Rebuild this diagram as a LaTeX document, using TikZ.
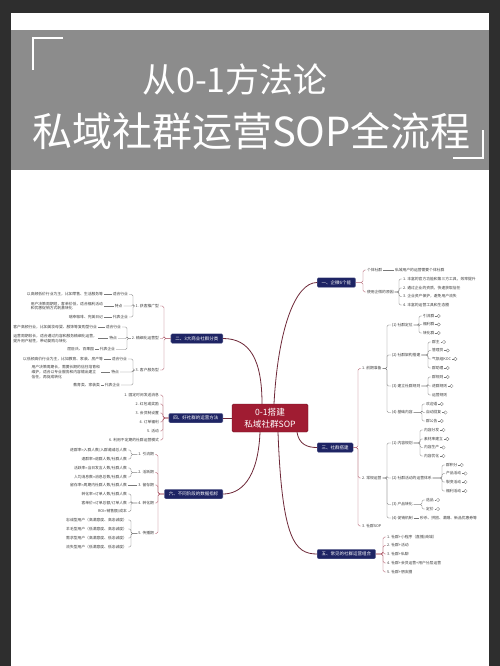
\documentclass[tikz,border=0pt]{standalone}
\usepackage{fontspec}
\setmainfont{Noto Sans CJK SC}
\usetikzlibrary{positioning}

\definecolor{framecolor}{RGB}{46,46,46}
\definecolor{bandcolor}{RGB}{140,140,140}
\definecolor{rootcolor}{RGB}{160,28,50}
\definecolor{branchcolor}{RGB}{30,36,100}
\definecolor{trunkcolor}{RGB}{110,40,56}
\definecolor{bracecolor}{RGB}{170,82,98}
\definecolor{leafcolor}{RGB}{60,60,60}
\definecolor{twigcolor}{RGB}{120,120,120}

\newcommand{\leafsize}{\fontsize{3.8}{4.7}\selectfont}

\begin{document}
\begin{tikzpicture}[x=1pt,y=-1pt,
    root/.style={fill=rootcolor, draw=rootcolor!70!black, line width=0.4pt, rounded corners=1.5pt,
      text=white, align=center, minimum width=76pt, minimum height=28pt, inner sep=0pt,
      font=\fontsize{8.6}{12.5}\selectfont},
    branch/.style={fill=branchcolor, draw=branchcolor!60!white, line width=0.3pt, rounded corners=1.2pt,
      text=white, inner xsep=4.5pt, inner ysep=0pt, minimum height=9.5pt, font=\fontsize{4.5}{5}\selectfont},
    leaf/.style={text=leafcolor, inner xsep=0.8pt, inner ysep=0.6pt, font=\leafsize, align=left},
    fold/.style={circle, draw=twigcolor, line width=0.3pt, inner sep=0pt, minimum size=3.4pt},
    trunk/.style={draw=trunkcolor, line width=0.8pt},
    brace/.style={draw=bracecolor, line width=0.45pt, rounded corners=1.6pt},
    twig/.style={draw=twigcolor, line width=0.35pt, rounded corners=1.4pt},
    titletext/.style={text=white, inner sep=0pt}]

    % Frame and title band
    \fill[framecolor] (0,0) rectangle (500,666);
    \fill[white] (11,13) rectangle (489,666);
    \fill[bandcolor] (11,30) rectangle (489,170);
    \useasboundingbox (0,0) rectangle (500,666);

    % Corner marks
    \draw[white, line width=1.2pt] (63,38) -- (33,38) -- (33,70);
    \draw[white, line width=1.2pt] (483,130) -- (483,158) -- (453,158);

    % Title
    \node[titletext, font=\fontsize{34}{40}\selectfont] (t1) at (235,80) {从0-1方法论};
    \node[titletext, font=\fontsize{40}{46}\selectfont] (t2) at (251.5,131) {私域社群运营SOP全流程};

    % Centre and main branches
    \node[root] (root) at (270,418) {0-1搭建\\私域社群SOP};
    \node[branch, anchor=west] (b1) at (317,282.5) {一、企微6个能};
    \node[branch, anchor=east] (b2) at (223,338.5) {二、3大商业社群分类};
    \node[branch, anchor=west] (b3) at (317,447.5) {三、社群搭建};
    \node[branch, anchor=east] (b4) at (223,418) {四、好社群的运营方法};
    \node[branch, anchor=west] (b5) at (317,554) {五、常见的社群运营组合};
    \node[branch, anchor=east] (b6) at (223,494) {六、不同阶段的数据指标};

    \draw[trunk] ([xshift=4pt]root.north) .. controls +(4,-74) and +(-22,0) .. (b1.west);
    \draw[trunk] ([xshift=-8pt]root.north) .. controls +(0,-44) and +(27,0) .. (b2.east);
    \draw[trunk] ([xshift=27pt]root.south) .. controls +(2,12) and +(-10,0) .. (b3.west);
    \draw[trunk] (root.west) -- (b4.east);
    \draw[trunk] ([xshift=8pt]root.south) .. controls +(4,108) and +(-22,0) .. (b5.west);
    \draw[trunk] ([xshift=-10pt]root.south) .. controls +(-2,48) and +(17,0) .. (b6.east);

    % 一
    \coordinate (k1) at (363,0);
    \node[leaf, anchor=west] (c11) at (366,270) {个体社群};
    \node[leaf, anchor=west] (c12) at (366,292) {使用企微的原因};
    \foreach \n in {c11,c12} \draw[brace] (b1.east) -- (b1.east -| k1) |- (\n.west);
    \node[leaf, anchor=west] (d111) at (394,270) {私域用户的运营需要个体社群};
    \draw[twig] (c11.east) -- (d111.west);
    \coordinate (k12) at (399,0);
    \foreach \y/\t [count=\i] in {279/{1. 丰富的官方功能和第三方工具，效率提升}, 288/{2. 通过企业的资质，快速获取信任},
        296.5/{3. 企业资产保护，避免用户流失}, 305/{4. 丰富的运营工具和生态圈}}{
      \node[leaf, anchor=west] (d12\i) at (402,\y) {\t};
      \draw[twig] (c12.east) -- (c12.east -| k12) |- (d12\i.west);
    }

    % 三
    \coordinate (k3) at (358,0);
    \node[leaf, anchor=west] (c31) at (361,368.5) {1. 前期准备};
    \node[leaf, anchor=west] (c32) at (361,478) {2. 常规运营};
    \node[leaf, anchor=west] (c33) at (361,526) {3. 社群SOP};
    \foreach \n in {c31,c32,c33} \draw[brace] (b3.east) -- (b3.east -| k3) |- (\n.west);

    \coordinate (k31) at (387,0);
    \node[leaf, anchor=west] (d311) at (391,325) {(1) 社群定位};
    \node[leaf, anchor=west] (d312) at (391,355) {(2) 社群架构搭建};
    \node[leaf, anchor=west] (d313) at (391,386) {(3) 建立社群规则};
    \node[leaf, anchor=west] (d314) at (391,412.5) {(4) 基础内容};
    \foreach \n in {d311,d312,d313,d314} \draw[twig] (c31.east) -- (c31.east -| k31) |- (\n.west);

    \coordinate (k311) at (419,0);
    \foreach \y/\t [count=\i] in {316/引流群, 324.5/福利群, 333/转化群}{
      \node[leaf, anchor=west] (e311\i) at (422,\y) {\t};
      \node[fold, right=1.5pt of e311\i] (f311\i) {};
      \draw[twig] (d311.east) -- (d311.east -| k311) |- (e311\i.west);
      \draw[twig] (e311\i) -- (f311\i);
    }
    \coordinate (k312) at (428,0);
    \foreach \y/\t [count=\i] in {342/群主, 350.5/管理员, 359/气氛组KOC, 368/群助理}{
      \node[leaf, anchor=west] (e312\i) at (431,\y) {\t};
      \node[fold, right=1.5pt of e312\i] (f312\i) {};
      \draw[twig] (d312.east) -- (d312.east -| k312) |- (e312\i.west);
      \draw[twig] (e312\i) -- (f312\i);
    }
    \coordinate (k313) at (428,0);
    \foreach \y/\t [count=\i] in {377/群规则, 386/进群规则}{
      \node[leaf, anchor=west] (e313\i) at (431,\y) {\t};
      \node[fold, right=1.5pt of e313\i] (f313\i) {};
      \draw[twig] (d313.east) -- (d313.east -| k313) |- (e313\i.west);
      \draw[twig] (e313\i) -- (f313\i);
    }
    \node[leaf, anchor=west] (e3133) at (431,395) {运营规则};
    \draw[twig] (d313.east) -- (d313.east -| k313) |- (e3133.west);
    \coordinate (k314) at (422,0);
    \foreach \y/\t [count=\i] in {404/欢迎语, 412.5/自动回复, 421/群公告}{
      \node[leaf, anchor=west] (e314\i) at (425,\y) {\t};
      \node[fold, right=1.5pt of e314\i] (f314\i) {};
      \draw[twig] (d314.east) -- (d314.east -| k314) |- (e314\i.west);
      \draw[twig] (e314\i) -- (f314\i);
    }

    \coordinate (k32) at (387,0);
    \node[leaf, anchor=west] (d321) at (391,443) {(1) 内容规划};
    \node[leaf, anchor=west] (d322) at (391,478) {(2) 社群活动的运营体系};
    \node[leaf, anchor=west] (d323) at (391,504.5) {(3) 产品转化};
    \node[leaf, anchor=west] (d324) at (391,518) {(4) 促销机制};
    \foreach \n in {d321,d322,d323,d324} \draw[twig] (c32.east) -- (c32.east -| k32) |- (\n.west);

    \coordinate (k321) at (420,0);
    \foreach \y/\t [count=\i] in {430/内容分发, 439/素材库建立, 447.5/内容生产, 456/内容优化}{
      \node[leaf, anchor=west] (e321\i) at (423,\y) {\t};
      \node[fold, right=1.5pt of e321\i] (f321\i) {};
      \draw[twig] (d321.east) -- (d321.east -| k321) |- (e321\i.west);
      \draw[twig] (e321\i) -- (f321\i);
    }
    \coordinate (k322) at (442,0);
    \foreach \y/\t [count=\i] in {465/群积分, 473.5/产品活动, 482/裂变活动, 491/福利活动}{
      \node[leaf, anchor=west] (e322\i) at (445,\y) {\t};
      \node[fold, right=1.5pt of e322\i] (f322\i) {};
      \draw[twig] (d322.east) -- (d322.east -| k322) |- (e322\i.west);
      \draw[twig] (e322\i) -- (f322\i);
    }
    \coordinate (k323) at (422,0);
    \foreach \y/\t [count=\i] in {500/选品, 509/定价}{
      \node[leaf, anchor=west] (e323\i) at (425,\y) {\t};
      \node[fold, right=1.5pt of e323\i] (f323\i) {};
      \draw[twig] (d323.east) -- (d323.east -| k323) |- (e323\i.west);
      \draw[twig] (e323\i) -- (f323\i);
    }
    \node[leaf, anchor=west] (e3241) at (419,518) {秒杀、拼团、满赠、新品优惠券等};
    \draw[twig] (d324.east) -- (e3241.west);

    % 五
    \coordinate (k5) at (383,0);
    \foreach \y/\t [count=\i] in {537/{1. 社群+小程序（直播/商城）}, 545.5/{2. 社群+活动}, 554/{3. 社群+私聊},
        563/{4. 社群+会员运营+用户分层运营}, 572/{5. 社群+朋友圈}}{
      \node[leaf, anchor=west] (c5\i) at (386,\y) {\t};
      \draw[brace] (b5.east) -- (b5.east -| k5) |- (c5\i.west);
    }

    % 二
    \coordinate (k2) at (164,0);
    \node[leaf, anchor=east] (c21) at (160,306) {1. 获客推广型};
    \node[leaf, anchor=east] (c22) at (160,338.5) {2. 精细化运营型};
    \node[leaf, anchor=east] (c23) at (160,370) {3. 客户服务型};
    \foreach \n in {c21,c22,c23} \draw[brace] (b2.west) -- (b2.west -| k2) |- (\n.east);

    \coordinate (k21) at (133,0);
    \foreach \x/\y/\l/\d [count=\i] in {129/294.5/适合行业/{以高频低价行业为主，比如零售、生活服务等},
        123.5/306/特点/{用户决策周期短，客单价低，适合福利活动\\和优惠促销方式刺激转化},
        129/317/代表企业/{瑞幸咖啡、完美日记}}{
      \node[leaf, anchor=east] (d21\i) at (\x,\y) {\l};
      \node[leaf, anchor=east] (e21\i) at (104,\y) {\d};
      \draw[twig] (c21.west) -- (c21.west -| k21) |- (d21\i.east);
      \draw[twig] (e21\i.east) -- (d21\i.west);
    }
    \coordinate (k22) at (127,0);
    \foreach \x/\y/\l/\d/\e [count=\i] in {122/327/适合行业/{客户高频行业，比如美妆母婴、服饰等复购型行业}/98,
        118/338.5/特点/{运营周期较长，适合通过内容和服务精细化运营，\\提升用户粘性，带动复购与转化}/98,
        116/349.5/代表企业/{屈臣氏、百果园}/95}{
      \node[leaf, anchor=east] (d22\i) at (\x,\y) {\l};
      \node[leaf, anchor=east] (e22\i) at (\e,\y) {\d};
      \draw[twig] (c22.west) -- (c22.west -| k22) |- (d22\i.east);
      \draw[twig] (e22\i.east) -- (d22\i.west);
    }
    \coordinate (k23) at (133,0);
    \foreach \x/\y/\l/\d/\e [count=\i] in {128/359/适合行业/{以低频高价行业为主，比如教育、家装、房产等}/104,
        120/372/特点/{用户决策周期长，需要长期的信任培育和\\维护，适合以专业服务和内容输出建立\\信任，再促成转化}/101,
        121/385/代表企业/{教育类、家装类}/101}{
      \node[leaf, anchor=east] (d23\i) at (\x,\y) {\l};
      \node[leaf, anchor=east] (e23\i) at (\e,\y) {\d};
      \draw[twig] (c23.west) -- (c23.west -| k23) |- (d23\i.east);
      \draw[twig] (e23\i.east) -- (d23\i.west);
    }

    % 四
    \coordinate (k4) at (163,0);
    \foreach \y/\t [count=\i] in {395/{1. 固定时间发送消息}, 404/{2. 红包或奖励}, 413/{3. 会员制设置},
        422/{4. 订单福利}, 431/{5. 活动}, 440/{6. 利用不定期的社群运营模式}}{
      \node[leaf, anchor=east] (c4\i) at (160,\y) {\t};
      \draw[brace] (b4.west) -- (b4.west -| k4) |- (c4\i.east);
    }

    % 六
    \coordinate (k6) at (158,0);
    \node[leaf, anchor=east] (c61) at (155,454.5) {1. 引流期};
    \node[leaf, anchor=east] (c62) at (155,472.5) {2. 活跃期};
    \node[leaf, anchor=east] (c63) at (155,485) {3. 留存期};
    \node[leaf, anchor=east] (c64) at (155,503) {4. 转化期};
    \node[leaf, anchor=east] (c65) at (155,533.5) {5. 传播期};
    \foreach \n in {c61,c62,c63,c64,c65} \draw[brace] (b6.west) -- (b6.west -| k6) |- (\n.east);

    \coordinate (k60) at (131,0);
    \foreach \y/\t [count=\i] in {450/{进群率=入群人数/入群邀请总人数}, 459/{退群率=退群人数/社群人数}}{
      \node[leaf, anchor=east] (d61\i) at (128,\y) {\t};
      \draw[twig] (c61.west) -- (c61.west -| k60) |- (d61\i.east);
    }
    \foreach \y/\t [count=\i] in {468/{活跃率=当日发言人数/社群人数}, 477/{人均消息数=消息总数/社群人数}}{
      \node[leaf, anchor=east] (d62\i) at (128,\y) {\t};
      \draw[twig] (c62.west) -- (c62.west -| k60) |- (d62\i.east);
    }
    \node[leaf, anchor=east] (d631) at (128,485) {留存率=周期内社群人数/社群人数};
    \draw[twig] (c63.west) -- (d631.east);
    \foreach \y/\t [count=\i] in {494/{转化率=订单人数/社群人数}, 503/{客单价=订单总额/订单人数}, 511.5/{ROI=销售额/成本}}{
      \node[leaf, anchor=east] (d64\i) at (128,\y) {\t};
      \draw[twig] (c64.west) -- (c64.west -| k60) |- (d64\i.east);
    }
    \foreach \y/\t [count=\i] in {520/{忠诚型用户（高满意度、高忠诚度）}, 529/{羊毛型用户（低满意度、高忠诚度）},
        538/{需求型用户（高满意度、低忠诚度）}, 547/{流失型用户（低满意度、低忠诚度）}}{
      \node[leaf, anchor=east] (d65\i) at (128,\y) {\t};
      \draw[twig] (c65.west) -- (c65.west -| k60) |- (d65\i.east);
    }
\end{tikzpicture}
\end{document}
